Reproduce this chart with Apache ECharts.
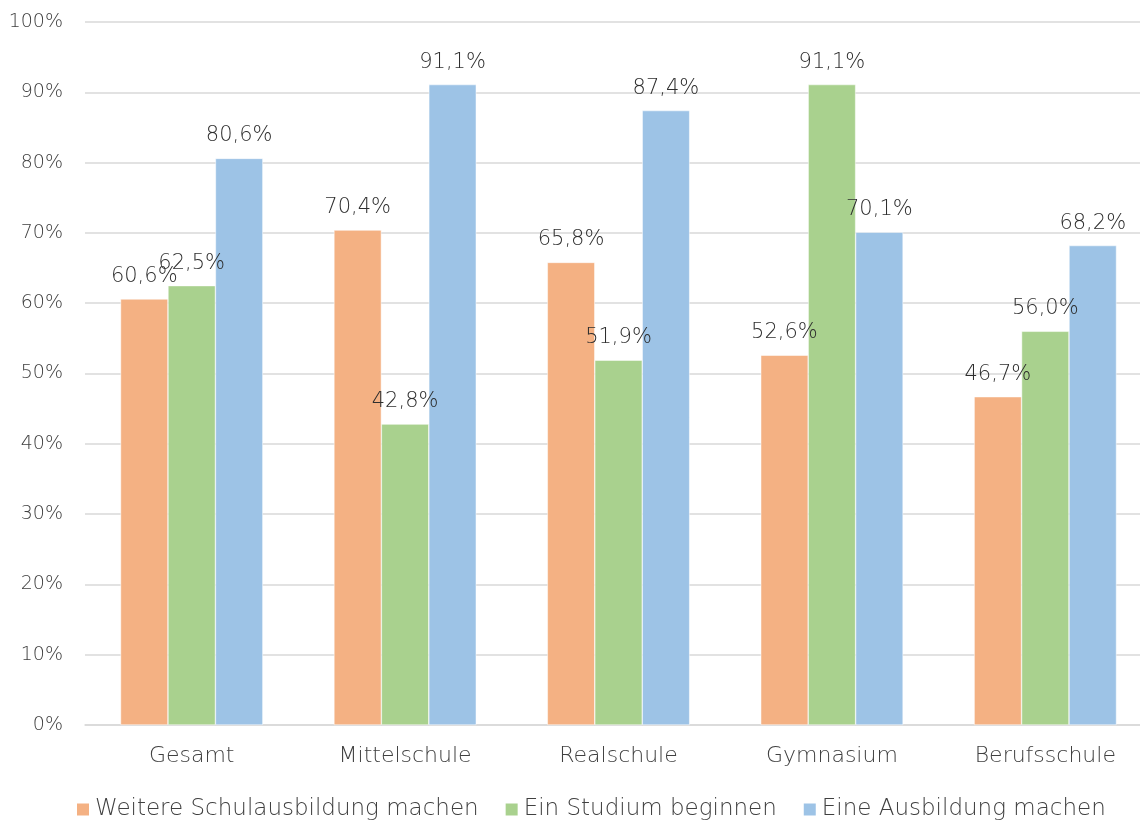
<!DOCTYPE html>
<html>
<head>
<meta charset="utf-8">
<script src="https://cdn.jsdelivr.net/npm/echarts@6/dist/echarts.min.js"></script>
<style>
  html, body { margin: 0; padding: 0; background: #fff; overflow: hidden; }
  /* plot area runs slightly past the right edge of the visible page */
  #chart { width: 1152px; height: 821px; }
</style>
</head>
<body>
<div id="chart"></div>
<script>
// Schularten
const categories = ['Gesamt', 'Mittelschule', 'Realschule', 'Gymnasium', 'Berufsschule'];
// Anteile in Prozent
const weitereSchule = [60.6, 70.4, 65.8, 52.6, 46.7];
const studium = [62.5, 42.8, 51.9, 91.1, 56.0];
const ausbildung = [80.6, 91.1, 87.4, 70.1, 68.2];
const seriesNames = ['Weitere Schulausbildung machen', 'Ein Studium beginnen', 'Eine Ausbildung machen'];
const colors = ['#F4B183', '#A9D18E', '#9DC3E6'];

const font = '"DejaVu Sans", sans-serif';
const weight = 200;
const fmt = v => v.toFixed(1).replace('.', ',') + '%';

const chart = echarts.init(document.getElementById('chart'));
const makeSeries = (name, data, color) => ({
  name,
  type: 'bar',
  data,
  barGap: '0%',
  barCategoryGap: '33.3%',
  itemStyle: { color, borderColor: '#fff', borderWidth: 0.5 },
  label: {
    show: true,
    position: 'top',
    distance: 12,
    color: '#2e2e2e',
    fontFamily: font,
    fontWeight: weight,
    fontSize: 21,
    formatter: p => fmt(p.value)
  }
});

chart.setOption({
  animation: false,
  color: colors,
  grid: { left: 85, right: 0, top: 22, bottom: 96, containLabel: false },
  legend: {
    top: 793,
    left: 70,
    itemWidth: 14,
    itemHeight: 14,
    itemGap: 25,
    icon: 'rect',
    textStyle: { color: '#404040', fontFamily: font, fontWeight: weight, fontSize: 23 },
    data: seriesNames
  },
  xAxis: {
    type: 'category',
    data: categories,
    axisLine: { lineStyle: { color: '#D9D9D9', width: 1.5 } },
    axisTick: { show: false },
    axisLabel: { color: '#404040', fontFamily: font, fontWeight: weight, fontSize: 22, margin: 20 }
  },
  yAxis: {
    type: 'value',
    min: 0,
    max: 100,
    interval: 10,
    axisLine: { show: false },
    axisTick: { show: false },
    splitLine: { lineStyle: { color: '#D9D9D9', width: 1.5 } },
    axisLabel: { color: '#404040', fontFamily: font, fontWeight: weight, fontSize: 19, margin: 22, formatter: v => v + '%' }
  },
  series: [
    makeSeries(seriesNames[0], weitereSchule, colors[0]),
    makeSeries(seriesNames[1], studium, colors[1]),
    makeSeries(seriesNames[2], ausbildung, colors[2])
  ]
});
</script>
</body>
</html>
